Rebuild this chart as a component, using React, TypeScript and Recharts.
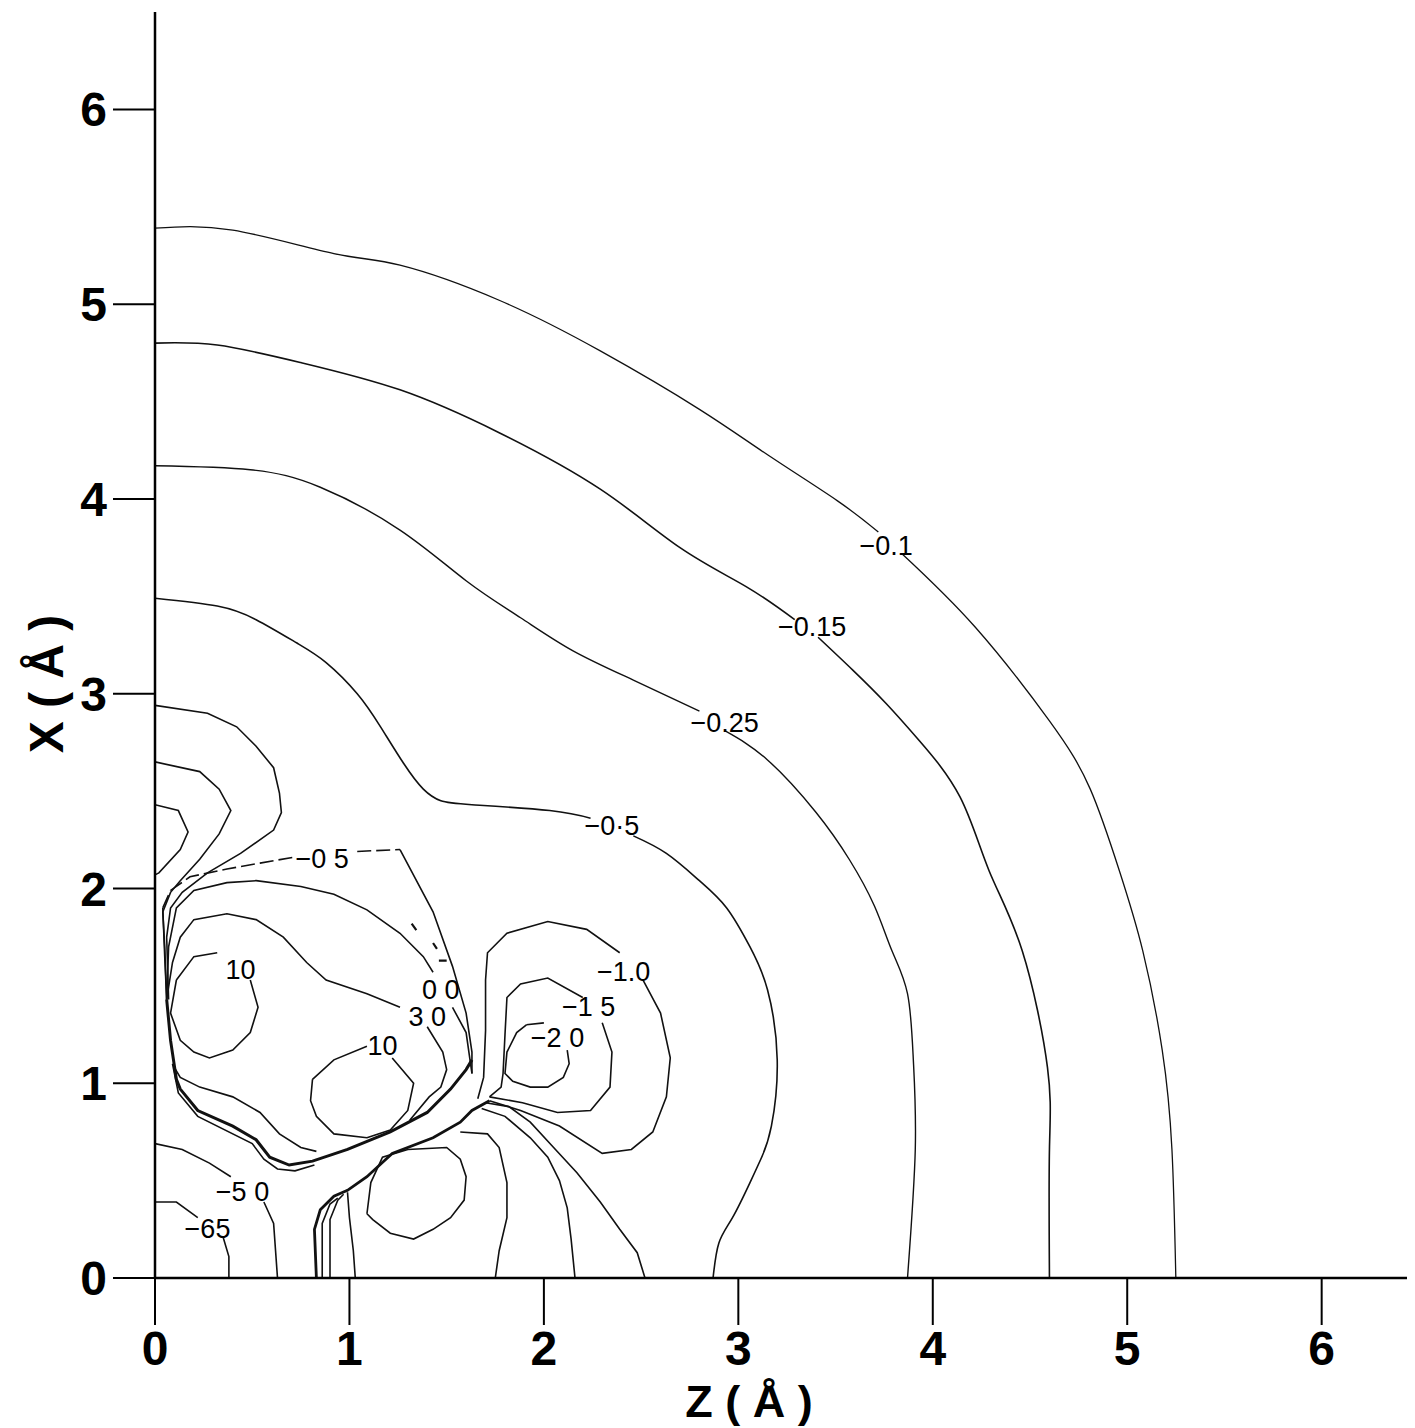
import React from 'react'
import { LineChart, Line, XAxis, YAxis, ReferenceDot, Label } from 'recharts'

type Pair = [number, number | null]

const xTicks = [0, 1, 2, 3, 4, 5, 6]
const yTicks = [0, 1, 2, 3, 4, 5, 6]

// contour levels, [z, x] pairs in Å; null = gap where the level label sits
const m010: Pair[] = [[0, 5.39], [0.4, 5.38], [0.92, 5.26], [1.26, 5.2], [1.77, 5.02], [2.29, 4.76], [2.8, 4.46], [3.16, 4.22], [3.51, 3.99], [3.72, 3.83], [3.78, null], [3.84, 3.72], [4.22, 3.34], [4.6, 2.86], [4.81, 2.51], [4.96, 2.09], [5.08, 1.68], [5.18, 1.17], [5.23, 0.66], [5.25, 0]]
const m015: Pair[] = [[0, 4.8], [0.32, 4.79], [0.75, 4.7], [1.26, 4.56], [1.77, 4.34], [2.29, 4.05], [2.7, 3.75], [3.04, 3.55], [3.29, 3.38], [3.35, null], [3.41, 3.29], [3.59, 3.12], [3.76, 2.95], [3.93, 2.76], [4.14, 2.47], [4.29, 2.09], [4.46, 1.68], [4.59, 1.08], [4.6, 0.66], [4.6, 0]]
const m025: Pair[] = [[0, 4.17], [0.49, 4.15], [0.85, 4.06], [1.26, 3.84], [1.6, 3.58], [1.88, 3.39], [2.15, 3.22], [2.46, 3.07], [2.8, 2.91], [2.86, null], [2.93, 2.81], [3.15, 2.66], [3.4, 2.39], [3.57, 2.15], [3.7, 1.91], [3.79, 1.68], [3.87, 1.46], [3.9, 1.12], [3.91, 0.66], [3.87, 0]]
const m050: Pair[] = [[0, 3.49], [0.32, 3.45], [0.52, 3.38], [0.73, 3.26], [0.88, 3.16], [1.04, 3.0], [1.16, 2.83], [1.28, 2.64], [1.38, 2.51], [1.47, 2.45], [1.63, 2.43], [2.03, 2.4], [2.24, 2.36], [2.3, null], [2.46, 2.27], [2.63, 2.18], [2.8, 2.04], [2.94, 1.9], [3.06, 1.7], [3.15, 1.48], [3.2, 1.12], [3.17, 0.78], [3.12, 0.62], [3.06, 0.49], [2.97, 0.31], [2.9, 0.18], [2.87, 0]]

const loopA: Pair[] = [[0, 2.94], [0.27, 2.9], [0.42, 2.83], [0.52, 2.73], [0.61, 2.62], [0.64, 2.49], [0.65, 2.39], [0.61, 2.3], [0.44, 2.18], [0.27, 2.08], [0.14, 1.98], [0.08, 1.9], [0.06, 1.75], [0.07, 1.43]]
const loopB: Pair[] = [[0, 2.65], [0.23, 2.6], [0.33, 2.51], [0.39, 2.4], [0.33, 2.28], [0.23, 2.15], [0.13, 2.04], [0.08, 1.98], [0.04, 1.88], [0.05, 1.7], [0.06, 1.43]]
const loopC: Pair[] = [[0, 2.43], [0.12, 2.4], [0.17, 2.29], [0.13, 2.2], [0.02, 2.08], [0, 2.07]]

const inner05a: Pair[] = [[0.04, 1.9], [0.08, 1.99], [0.18, 2.06], [0.37, 2.1], [0.54, 2.13], [0.71, 2.16], [0.85, null], [1.04, 2.19], [1.26, 2.2]]
const inner05b: Pair[] = [[1.26, 2.2], [1.43, 1.88], [1.53, 1.6], [1.6, 1.36], [1.63, 1.16], [1.63, 1.05]]
const inner05c: Pair[] = [[0.04, 1.9], [0.05, 1.65], [0.06, 1.43]]
const level00: Pair[] = [[0.06, 1.43], [0.07, 1.7], [0.11, 1.9], [0.2, 1.99], [0.37, 2.03], [0.52, 2.04], [0.75, 2.01], [0.92, 1.97], [1.09, 1.89], [1.26, 1.77], [1.38, 1.65], [1.43, 1.57], [1.48, null], [1.53, 1.39], [1.6, 1.26], [1.62, 1.12], [1.63, 1.05]]
const level30: Pair[] = [[0.06, 1.43], [0.09, 1.62], [0.13, 1.75], [0.2, 1.84], [0.37, 1.87], [0.52, 1.84], [0.66, 1.75], [0.78, 1.62], [0.88, 1.53], [1.09, 1.46], [1.26, 1.39], [1.33, null], [1.4, 1.29], [1.48, 1.16], [1.5, 1.07], [1.47, 0.98], [1.41, 0.93], [1.31, 0.81]]
const level30low: Pair[] = [[0.1, 1.08], [0.13, 1.03], [0.23, 0.98], [0.4, 0.93], [0.54, 0.85], [0.64, 0.74], [0.75, 0.67], [0.83, 0.65]]
const peak10a: Pair[] = [[0.11, 1.53], [0.2, 1.65], [0.32, 1.67], [0.4, null], [0.49, 1.53], [0.53, 1.39], [0.49, 1.26], [0.4, 1.17], [0.28, 1.13], [0.2, 1.16], [0.13, 1.22], [0.08, 1.36], [0.11, 1.53]]
const peak10b: Pair[] = [[0.81, 1.02], [0.92, 1.12], [1.09, 1.19], [1.15, null], [1.22, 1.13], [1.33, 1.0], [1.3, 0.86], [1.21, 0.76], [1.09, 0.72], [0.92, 0.74], [0.83, 0.83], [0.8, 0.91], [0.81, 1.02]]
const ridgeUpper: Pair[] = [[0.06, 1.43], [0.08, 1.22], [0.11, 1.02], [0.13, 0.97], [0.22, 0.86], [0.4, 0.78], [0.52, 0.71], [0.59, 0.62], [0.69, 0.58], [0.81, 0.6], [0.99, 0.66], [1.21, 0.75], [1.4, 0.85], [1.52, 0.97], [1.6, 1.07], [1.63, 1.12]]
const ridgeOuter: Pair[] = [[0.09, 1.1], [0.12, 0.95], [0.22, 0.83], [0.5, 0.69], [0.56, 0.61], [0.63, 0.56], [0.72, 0.55], [0.82, 0.58]]
const ridgeLower: Pair[] = [[0.83, 0], [0.82, 0.25], [0.85, 0.35], [0.92, 0.42], [0.99, 0.45], [1.09, 0.52], [1.22, 0.64], [1.43, 0.72], [1.57, 0.8], [1.63, 0.86], [1.72, 0.91]]
const foot1: Pair[] = [[0.86, 0], [0.86, 0.28], [0.9, 0.38], [0.94, 0.41]]
const foot2: Pair[] = [[0.9, 0], [0.9, 0.3], [0.94, 0.4], [0.97, 0.43]]
const foot3: Pair[] = [[1.03, 0], [1.02, 0.14], [1.0, 0.31], [0.99, 0.44]]
const lowLoop: Pair[] = [[1.09, 0.33], [1.11, 0.49], [1.17, 0.62], [1.3, 0.66], [1.5, 0.67], [1.57, 0.61], [1.6, 0.52], [1.59, 0.4], [1.52, 0.31], [1.43, 0.25], [1.33, 0.2], [1.21, 0.23], [1.12, 0.3], [1.09, 0.33]]
const fan1: Pair[] = [[1.57, 0.75], [1.71, 0.74], [1.77, 0.67], [1.81, 0.49], [1.81, 0.31], [1.77, 0.14], [1.75, 0]]
const fan2: Pair[] = [[1.68, 0.87], [1.8, 0.83], [1.93, 0.72], [2.02, 0.62], [2.08, 0.5], [2.12, 0.36], [2.14, 0.2], [2.16, 0]]
const fan3: Pair[] = [[1.7, 0.9], [1.82, 0.88], [1.93, 0.8], [2.05, 0.67], [2.17, 0.54], [2.29, 0.39], [2.39, 0.25], [2.48, 0.13], [2.52, 0]]
const m10: Pair[] = [[1.66, 0.92], [1.69, 1.03], [1.7, 1.27], [1.7, 1.53], [1.71, 1.67], [1.81, 1.77], [2.02, 1.83], [2.22, 1.79], [2.39, 1.67], [2.45, null], [2.51, 1.53], [2.6, 1.36], [2.65, 1.13], [2.63, 0.93], [2.56, 0.75], [2.45, 0.66], [2.3, 0.64], [2.08, 0.78], [1.88, 0.86], [1.72, 0.91]]
const m15: Pair[] = [[1.72, 0.93], [1.78, 0.98], [1.79, 1.05], [1.8, 1.25], [1.81, 1.44], [1.88, 1.51], [2.02, 1.54], [2.2, 1.44], [2.25, null], [2.3, 1.31], [2.35, 1.16], [2.34, 0.98], [2.24, 0.86], [2.07, 0.85], [1.89, 0.9], [1.72, 0.93]]
const m20: Pair[] = [[1.91, 1.3], [2.0, 1.31], [2.06, null], [2.12, 1.17], [2.13, 1.1], [2.1, 1.03], [2.02, 0.98], [1.93, 0.98], [1.84, 1.01], [1.8, 1.05], [1.81, 1.16], [1.86, 1.26], [1.91, 1.3]]
const m50: Pair[] = [[0, 0.69], [0.14, 0.66], [0.28, 0.59], [0.39, 0.52], [0.45, null], [0.56, 0.39], [0.61, 0.28], [0.62, 0.14], [0.63, 0]]
const m65: Pair[] = [[0, 0.39], [0.11, 0.39], [0.22, 0.31], [0.28, null], [0.35, 0.21], [0.38, 0.11], [0.38, 0]]
const ticks00: Pair[] = [[1.32, 1.82], [1.37, 1.75], [1.4, null], [1.43, 1.72], [1.45, 1.69], [1.455, null], [1.46, 1.63], [1.5, 1.63]]

const contourLabels = [
  { z: 3.76, x: 3.76, text: '−0.1' },
  { z: 3.38, x: 3.34, text: '−0.15' },
  { z: 2.93, x: 2.85, text: '−0.25' },
  { z: 2.35, x: 2.32, text: '−0·5' },
  { z: 0.86, x: 2.15, text: '−0 5' },
  { z: 0.44, x: 1.58, text: '10' },
  { z: 1.47, x: 1.48, text: '0 0' },
  { z: 1.4, x: 1.34, text: '3 0' },
  { z: 1.17, x: 1.19, text: '10' },
  { z: 2.41, x: 1.57, text: '−1.0' },
  { z: 2.23, x: 1.39, text: '−1 5' },
  { z: 2.07, x: 1.23, text: '−2 0' },
  { z: 0.45, x: 0.44, text: '−5 0' },
  { z: 0.27, x: 0.25, text: '−65' },
]

type Curve = 'linear' | 'natural'
const series: { id: string; data: Pair[]; w?: number; dash?: string; curve?: Curve }[] = [
  { id: 'm010', data: m010, w: 1.3, curve: 'natural' },
  { id: 'm015', data: m015, curve: 'natural' },
  { id: 'm025', data: m025, w: 1.4, curve: 'natural' },
  { id: 'm050', data: m050, curve: 'natural' },
  { id: 'loopA', data: loopA },
  { id: 'loopB', data: loopB },
  { id: 'loopC', data: loopC },
  { id: 'inner05a', data: inner05a, dash: '14 5' },
  { id: 'inner05b', data: inner05b },
  { id: 'inner05c', data: inner05c },
  { id: 'level00', data: level00 },
  { id: 'level30', data: level30 },
  { id: 'level30low', data: level30low },
  { id: 'peak10a', data: peak10a },
  { id: 'peak10b', data: peak10b },
  { id: 'ridgeUpper', data: ridgeUpper, w: 3 },
  { id: 'ridgeOuter', data: ridgeOuter, w: 1.6 },
  { id: 'ridgeLower', data: ridgeLower, w: 2.8 },
  { id: 'foot1', data: foot1 },
  { id: 'foot2', data: foot2 },
  { id: 'foot3', data: foot3 },
  { id: 'lowLoop', data: lowLoop },
  { id: 'fan1', data: fan1 },
  { id: 'fan2', data: fan2 },
  { id: 'fan3', data: fan3 },
  { id: 'm10', data: m10 },
  { id: 'm15', data: m15 },
  { id: 'm20', data: m20 },
  { id: 'm50', data: m50 },
  { id: 'm65', data: m65 },
  { id: 'ticks00', data: ticks00, w: 2.2, dash: '8 10' },
]

const FONT = '"Liberation Sans", Arial, Helvetica, sans-serif'
const toRows = (d: Pair[]) => d.map(([x, y]) => ({ x, y }))

export default function App() {
  return (
    <div style={{ width: 1407, height: 1420, background: '#fff' }}>
      <LineChart width={1407} height={1420} margin={{ top: 4, right: 0, bottom: 0, left: 0 }}>
        <XAxis
          type="number"
          dataKey="x"
          domain={[0, 6.48]}
          ticks={xTicks}
          allowDataOverflow
          height={150}
          tickSize={47}
          tickMargin={6}
          axisLine={{ stroke: '#000', strokeWidth: 2.5 }}
          tickLine={{ stroke: '#000', strokeWidth: 2 }}
          tick={{ fontSize: 48, fontWeight: 'bold', fill: '#000', fontFamily: FONT }}
        >
          <Label
            content={(p: any) => (
              <text
                x={p.viewBox.x + 594}
                y={p.viewBox.y + 139}
                textAnchor="middle"
                fontSize={45}
                fontWeight="bold"
                fontFamily={FONT}
                fill="#000"
              >
                Z ( Å )
              </text>
            )}
          />
        </XAxis>
        <YAxis
          type="number"
          domain={[0, 6.5]}
          ticks={yTicks}
          allowDataOverflow
          width={147}
          tickSize={42}
          tickMargin={6}
          axisLine={{ stroke: '#000', strokeWidth: 2.5 }}
          tickLine={{ stroke: '#000', strokeWidth: 2 }}
          tick={{ fontSize: 48, fontWeight: 'bold', fill: '#000', fontFamily: FONT }}
        >
          <Label
            content={(p: any) => {
              const cx = p.viewBox.x + 38
              const cy = p.viewBox.y + 672
              return (
                <text
                  x={cx}
                  y={cy}
                  transform={`rotate(-90, ${cx}, ${cy})`}
                  textAnchor="middle"
                  dominantBaseline="central"
                  fontSize={48}
                  fontWeight="bold"
                  fontFamily={FONT}
                  fill="#000"
                >
                  X ( Å )
                </text>
              )
            }}
          />
        </YAxis>
        {series.map((s) => (
          <Line
            key={s.id}
            data={toRows(s.data)}
            dataKey="y"
            type={s.curve ?? 'linear'}
            stroke="#111"
            strokeWidth={s.w ?? 1.6}
            strokeDasharray={s.dash}
            dot={false}
            activeDot={false}
            connectNulls={false}
            isAnimationActive={false}
          />
        ))}
        {contourLabels.map((l, i) => (
          <ReferenceDot
            key={i}
            x={l.z}
            y={l.x}
            r={0}
            shape={(p: any) => (
              <text
                x={p.cx}
                y={p.cy}
                textAnchor="middle"
                dominantBaseline="central"
                fontSize={27}
                fontFamily={FONT}
                fill="#000"
              >
                {l.text}
              </text>
            )}
          />
        ))}
      </LineChart>
    </div>
  )
}
